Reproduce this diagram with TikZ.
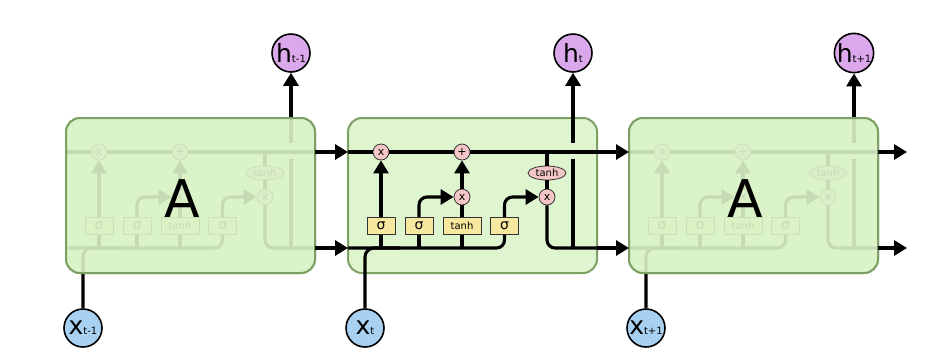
\documentclass[tikz,border=0pt]{standalone}
\usepackage{fontspec}
\setmainfont{DejaVu Sans}
\usetikzlibrary{arrows.meta,shapes.geometric}
\definecolor{boxgreen}{HTML}{DFF5D0}
\definecolor{boxedge}{HTML}{7DA064}
\definecolor{sidegreen}{HTML}{DAF3C8}
\definecolor{opink}{HTML}{F5C6C6}
\definecolor{gyellow}{HTML}{F7E8A0}
\definecolor{hpurple}{HTML}{DBA8EC}
\definecolor{xblue}{HTML}{A8D0F0}
\newcommand\lsub[1]{{\fontsize{10}{10}\selectfont #1}}
\tikzset{
  wire/.style={line width=3.1pt, black},
  arr/.style={wire, -{Triangle[length=13pt,width=15pt]}},
  opnode/.style={circle, draw=black!80, line width=0.8pt, fill=opink, minimum size=16pt, inner sep=0pt, font=\fontsize{11}{11}\selectfont},
  gatebox/.style={rectangle, draw=black!80, line width=0.8pt, fill=gyellow, minimum height=17pt, minimum width=28pt, inner sep=0pt, font=\fontsize{14}{14}\selectfont},
  tanhbox/.style={gatebox, minimum width=38pt, font=\fontsize{10}{10}\selectfont},
  tanhoval/.style={ellipse, draw=black!80, line width=0.8pt, fill=opink, minimum width=38pt, minimum height=14pt, inner sep=0pt, font=\fontsize{10}{10}\selectfont},
  cellbox/.style={draw=boxedge, line width=2pt, fill=boxgreen, rounded corners=14pt},
  sidebox/.style={draw=boxedge, line width=2pt, fill=sidegreen, fill opacity=0.9, rounded corners=14pt},
  hnode/.style={circle, draw=black, line width=1.6pt, fill=hpurple, minimum size=38pt, inner sep=0pt, font=\fontsize{25}{25}\selectfont},
  xnode/.style={hnode, fill=xblue},
  bigA/.style={font=\fontsize{52}{52}\selectfont},
  lstm/.pic={
    \coordinate (-nw) at (348,118);
    \coordinate (-se) at (597,273);
    \draw[cellbox] (-nw) rectangle (-se);
    \coordinate (-cin) at (348,152);
    \coordinate (-cout) at (597,152);
    \coordinate (-hin) at (348,248);
    \coordinate (-hout) at (597,248);
    \coordinate (-top) at (573,143);
    \coordinate (-gap) at (573,159);
    \coordinate (-join) at (400,248);
    \node[opnode] (-f) at (381,152) {x};
    \node[opnode] (-p) at (462,152) {+};
    \node[opnode] (-ix) at (462,197) {x};
    \node[opnode] (-ox) at (547,197) {x};
    \node[tanhoval] (-th) at (547,173) {tanh};
    \node[gatebox] (-s1) at (381,226) {σ};
    \node[gatebox] (-s2) at (419,226) {σ};
    \node[tanhbox] (-tb) at (462,226) {tanh};
    \node[gatebox] (-s4) at (504.5,226) {σ};
    \draw[wire] (-cin) -- (-f.west);
    \draw[wire] (-f.east) -- (-p.west);
    \draw[wire] (-p.east) -- (-cout);
    \draw[wire, rounded corners=8pt] (-hin) -| (-s4.south);
    \draw[wire] (-s1.south) -- (-s1.south |- -hin);
    \draw[wire] (-s2.south) -- (-s2.south |- -hin);
    \draw[wire] (-tb.south) -- (-tb.south |- -hin);
    \draw[arr] (-s1.north) -- (-f.south);
    \draw[arr, rounded corners=8pt] (-s2.north) |- (-ix.west);
    \draw[wire] (-tb.north) -- (-ix.south);
    \draw[arr] (-ix.north) -- (-p.south);
    \draw[arr, rounded corners=8pt] (-s4.north) |- (-ox.west);
    \draw[wire] (-th.north |- -cin) -- (-th.north);
    \draw[wire] (-th.south) -- (-ox.north);
    \draw[wire, rounded corners=8pt] (-ox.south) |- (-hout);
    \draw[wire] (-gap) -- (-gap |- -hout);
  }
}
\begin{document}
\begin{tikzpicture}[x=1pt,y=-1pt]
\useasboundingbox[fill=white] (0,0) rectangle (941,360);
\pic (L) at (-282,0) {lstm};
\pic (M) at (0,0) {lstm};
\pic (R) at (281,0) {lstm};
% outputs and inputs
\node[hnode] (hL) at (291,53) {h\lsub{t-1}};
\node[hnode] (hM) at (573,53) {h\lsub{t}};
\node[hnode] (hR) at (854,53) {h\lsub{t+1}};
\node[xnode] (xL) at (83,328) {x\lsub{t-1}};
\node[xnode] (xM) at (365,328) {x\lsub{t}};
\node[xnode] (xR) at (646,328) {x\lsub{t+1}};
\draw[arr] (L-top) -- (hL);
\draw[arr] (M-top) -- (hM);
\draw[arr] (R-top) -- (hR);
\draw[wire, rounded corners=9pt] (xL) |- (L-join);
\draw[wire, rounded corners=9pt] (xM) |- (M-join);
\draw[wire, rounded corners=9pt] (xR) |- (R-join);
% faded side cells
\draw[sidebox] (L-nw) rectangle (L-se);
\node[bigA] (AL) at (182,199) {A};
\draw[sidebox] (R-nw) rectangle (R-se);
\node[bigA] (AR) at (745,199) {A};
% connections between cells
\coordinate (cend) at (907,152);
\coordinate (hend) at (907,248);
\draw[arr] (L-cout) -- (M-cin);
\draw[arr] (L-hout) -- (M-hin);
\draw[arr] (M-cout) -- (R-cin);
\draw[arr] (M-hout) -- (R-hin);
\draw[arr] (R-cout) -- (cend);
\draw[arr] (R-hout) -- (hend);
\end{tikzpicture}
\end{document}
